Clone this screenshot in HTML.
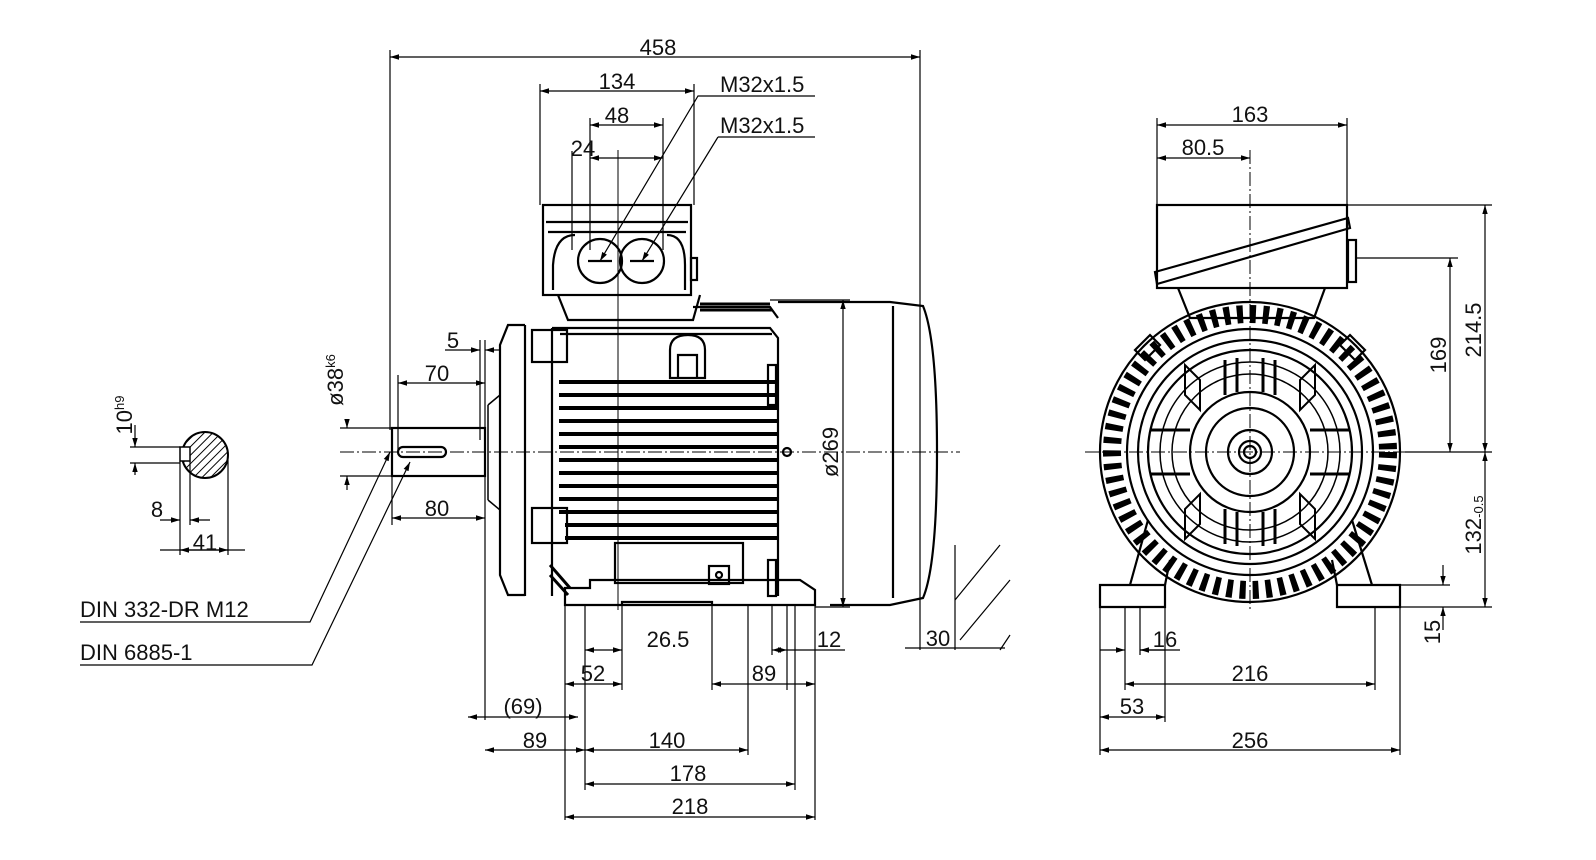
<!DOCTYPE html>
<html><head><meta charset="utf-8"><style>
html,body{margin:0;padding:0;background:#fff;}
svg{display:block}
text{font-family:"Liberation Sans",sans-serif;font-size:22px;fill:#111;}
</style></head><body>
<svg width="1596" height="860" viewBox="0 0 1596 860" xmlns="http://www.w3.org/2000/svg">
<defs>
<marker id="a" viewBox="0 0 10 10" refX="10" refY="5" markerWidth="9" markerHeight="9" orient="auto-start-reverse" markerUnits="userSpaceOnUse"><path d="M0,2 L10,5 L0,8z" fill="#000"/></marker>
<pattern id="h" width="6" height="6" patternUnits="userSpaceOnUse" patternTransform="rotate(45)"><line x1="0" y1="0" x2="0" y2="6" stroke="#000" stroke-width="2"/></pattern>
</defs>
<g stroke="#000" fill="none" stroke-width="1.3">
<line x1="340" y1="452" x2="960" y2="452" stroke-dasharray="14 3 2 3" stroke-width="1"/>
<line x1="1085" y1="452" x2="1420" y2="452" stroke-dasharray="14 3 2 3" stroke-width="1"/>
<line x1="618" y1="150" x2="618" y2="610" stroke-width="1"/>
<line x1="1250" y1="150" x2="1250" y2="610" stroke-dasharray="14 3 2 3" stroke-width="1"/>

<g stroke-width="2.2">
<rect x="543" y="205" width="148" height="90"/>
<line x1="546" y1="222" x2="688" y2="222"/>
<line x1="548" y1="232" x2="686" y2="232"/>
<path d="M553 290 V265 Q555 235 575 235 M667 235 Q685 235 685 265 V290"/>
<circle cx="600" cy="261" r="22"/><circle cx="642" cy="261" r="22"/>
<line x1="588" y1="261" x2="612" y2="261"/><line x1="630" y1="261" x2="654" y2="261"/>
<rect x="691" y="258" width="6" height="22"/>
<path d="M558 295 L568 320 H693 L700 295"/>
<path d="M693 307 H770 L778 318"/>
<path d="M552 328 H770 L778 338 V596"/>
<line x1="560" y1="334" x2="772" y2="334"/>
<line x1="552" y1="328" x2="552" y2="596"/>
<path d="M525 325 V596 M525 325 H508 L500 345 V575 L508 595 H525"/>
<rect x="532" y="330" width="35" height="32"/><rect x="532" y="508" width="35" height="35"/>
<path d="M488 405 V500 M488 405 L500 395 M488 500 L500 510" stroke-width="1.5"/>
<path d="M670 378 V350 Q670 335 688 335 Q705 335 705 350 V378 Z M678 378 V355 H697 V378"/>
<rect x="768" y="365" width="8" height="40"/><rect x="768" y="560" width="8" height="36"/>
<rect x="615" y="543" width="128" height="40"/>
<rect x="709" y="566" width="20" height="18"/><circle cx="719" cy="575" r="3"/>
<path d="M778 302 H890 L923 306 Q937 340 937 452 Q937 565 923 598 L890 605 H830"/>
<line x1="893" y1="306" x2="893" y2="598"/>
<circle cx="787" cy="452" r="4"/>
<path d="M565 605 V588 H590 V580 H800 L815 590 V605 Z"/>
<path d="M622 605 V602 H712 V605"/>
<rect x="392" y="428" width="93" height="48"/>
<rect x="398" y="447" width="48" height="10" rx="5"/>
</g>
<g stroke-width="4">
<line x1="559" y1="382" x2="778" y2="382"/><line x1="559" y1="395" x2="778" y2="395"/>
<line x1="559" y1="408" x2="778" y2="408"/><line x1="559" y1="421" x2="778" y2="421"/>
<line x1="559" y1="434" x2="778" y2="434"/><line x1="559" y1="447" x2="778" y2="447"/>
<line x1="559" y1="460" x2="778" y2="460"/><line x1="559" y1="473" x2="778" y2="473"/>
<line x1="559" y1="486" x2="778" y2="486"/><line x1="559" y1="499" x2="778" y2="499"/>
<line x1="559" y1="512" x2="778" y2="512"/><line x1="565" y1="525" x2="778" y2="525"/>
<line x1="565" y1="538" x2="778" y2="538"/>
<line x1="700" y1="304" x2="770" y2="304" stroke-width="3"/>
<line x1="700" y1="310" x2="772" y2="310" stroke-width="3"/>
<line x1="550" y1="575" x2="568" y2="595" stroke-width="3"/>
<line x1="550" y1="565" x2="570" y2="588" stroke-width="3"/>
</g>

<g stroke-width="2.2">
<rect x="1157" y="205" width="190" height="83"/>
<path d="M1155 272 L1348 218 L1350 228 L1157 284 Z"/>
<rect x="1348" y="240" width="8" height="42"/>
<path d="M1178 288 L1190 318 H1314 L1325 288"/>
<circle cx="1250" cy="452" r="150"/>
<circle cx="1250" cy="452" r="123"/>
<circle cx="1250" cy="452" r="112"/>
<circle cx="1250" cy="452" r="102"/>
<circle cx="1250" cy="452" r="60"/>
<circle cx="1250" cy="452" r="44"/>
<circle cx="1250" cy="452" r="22"/>
<circle cx="1250" cy="452" r="11"/>
<circle cx="1250" cy="452" r="6"/>
<path d="M1100 585 V607 H1165 V585 Z M1337 585 V607 H1400 V585 Z"/>
<path d="M1130 585 L1148 520 M1165 585 L1170 560 M1372 585 L1352 520 M1337 585 L1332 560"/>
<path d="M1135 350 L1150 335 L1160 345 L1145 360 Z M1365 350 L1350 335 L1340 345 L1355 360 Z"/>
</g>
<circle cx="1250" cy="452" r="138" stroke-width="18" stroke-dasharray="6 7"/>
<circle cx="1250" cy="452" r="90" stroke-width="1.5"/>
<circle cx="1250" cy="452" r="78" stroke-width="1.5"/>
<g stroke-width="2">
<path d="M1200 380 L1185 365 V395 L1200 410 Z" />
<path d="M1300 380 L1315 365 V395 L1300 410 Z"/>
<path d="M1200 524 L1185 539 V509 L1200 494 Z"/>
<path d="M1300 524 L1315 539 V509 L1300 494 Z"/>
</g>
<g stroke-width="3">
<line x1="1225" y1="360" x2="1225" y2="395"/><line x1="1237" y1="358" x2="1237" y2="392"/>
<line x1="1263" y1="358" x2="1263" y2="392"/><line x1="1275" y1="360" x2="1275" y2="395"/>
<line x1="1225" y1="509" x2="1225" y2="544"/><line x1="1237" y1="512" x2="1237" y2="546"/>
<line x1="1263" y1="512" x2="1263" y2="546"/><line x1="1275" y1="509" x2="1275" y2="544"/>
<line x1="1150" y1="430" x2="1190" y2="430"/><line x1="1150" y1="474" x2="1190" y2="474"/>
<line x1="1310" y1="430" x2="1350" y2="430"/><line x1="1310" y1="474" x2="1350" y2="474"/>
</g>

<circle cx="205" cy="455" r="23" fill="url(#h)" stroke-width="2"/>
<rect x="180" y="447" width="10" height="14" fill="#fff" stroke-width="1.5"/>

<g stroke-width="1.2">
<line x1="390" y1="50" x2="390" y2="430"/><line x1="920" y1="50" x2="920" y2="650"/>
<line x1="540" y1="84" x2="540" y2="205"/><line x1="694" y1="84" x2="694" y2="205"/>
<line x1="590" y1="118" x2="590" y2="250"/><line x1="663" y1="118" x2="663" y2="250"/>
<line x1="572" y1="151" x2="572" y2="250"/>
<line x1="390" y1="57" x2="920" y2="57" marker-start="url(#a)" marker-end="url(#a)"/>
<line x1="540" y1="91" x2="694" y2="91" marker-start="url(#a)" marker-end="url(#a)"/>
<line x1="590" y1="125" x2="663" y2="125" marker-start="url(#a)" marker-end="url(#a)"/>
<line x1="590" y1="158" x2="663" y2="158" marker-start="url(#a)" marker-end="url(#a)"/>
<polyline points="718,96 698,96 600,261" marker-end="url(#a)"/>
<polyline points="718,137 718,137 642,261" marker-end="url(#a)"/>
<line x1="718" y1="96" x2="815" y2="96"/><line x1="718" y1="137" x2="815" y2="137"/>
<line x1="480" y1="340" x2="480" y2="440"/><line x1="485" y1="340" x2="485" y2="430"/>
<line x1="445" y1="350" x2="480" y2="350" marker-end="url(#a)"/>
<line x1="485" y1="350" x2="500" y2="350" marker-start="url(#a)"/>
<line x1="398" y1="375" x2="398" y2="450"/>
<line x1="398" y1="383" x2="485" y2="383" marker-start="url(#a)" marker-end="url(#a)"/>
<line x1="392" y1="476" x2="392" y2="525"/><line x1="485" y1="476" x2="485" y2="720"/>
<line x1="392" y1="518" x2="485" y2="518" marker-start="url(#a)" marker-end="url(#a)"/>
<line x1="340" y1="428" x2="392" y2="428"/><line x1="340" y1="476" x2="392" y2="476"/>
<line x1="347" y1="420" x2="347" y2="428" marker-end="url(#a)"/>
<line x1="347" y1="490" x2="347" y2="476" marker-end="url(#a)"/>
<line x1="770" y1="300" x2="850" y2="300"/><line x1="815" y1="607" x2="850" y2="607"/>
<line x1="843" y1="300" x2="843" y2="607" marker-start="url(#a)" marker-end="url(#a)"/>
<line x1="905" y1="648" x2="1005" y2="648"/>
<line x1="955" y1="545" x2="955" y2="650"/>
<line x1="955" y1="600" x2="1000" y2="545"/><line x1="960" y1="640" x2="1010" y2="580"/><line x1="1000" y1="650" x2="1010" y2="635"/>
<polyline points="80,622 310,622 390,452" marker-end="url(#a)"/>
<polyline points="80,665 312,665 410,462" marker-end="url(#a)"/>
<line x1="565" y1="605" x2="565" y2="820"/><line x1="585" y1="605" x2="585" y2="790"/>
<line x1="622" y1="605" x2="622" y2="690"/><line x1="712" y1="605" x2="712" y2="690"/>
<line x1="748" y1="605" x2="748" y2="755"/><line x1="772" y1="605" x2="772" y2="655"/>
<line x1="787" y1="605" x2="787" y2="690"/><line x1="795" y1="605" x2="795" y2="790"/>
<line x1="815" y1="605" x2="815" y2="820"/>
<line x1="585" y1="650" x2="622" y2="650" marker-start="url(#a)" marker-end="url(#a)"/>
<line x1="772" y1="650" x2="787" y2="650" marker-start="url(#a)" marker-end="url(#a)"/>
<line x1="787" y1="650" x2="845" y2="650"/>
<line x1="565" y1="684" x2="622" y2="684" marker-start="url(#a)" marker-end="url(#a)"/>
<line x1="712" y1="684" x2="815" y2="684" marker-start="url(#a)" marker-end="url(#a)"/>
<line x1="468" y1="717" x2="578" y2="717" marker-start="url(#a)" marker-end="url(#a)"/>
<line x1="485" y1="750" x2="585" y2="750" marker-start="url(#a)" marker-end="url(#a)"/>
<line x1="585" y1="750" x2="748" y2="750" marker-start="url(#a)" marker-end="url(#a)"/>
<line x1="585" y1="784" x2="795" y2="784" marker-start="url(#a)" marker-end="url(#a)"/>
<line x1="565" y1="817" x2="815" y2="817" marker-start="url(#a)" marker-end="url(#a)"/>
<line x1="130" y1="447" x2="180" y2="447"/><line x1="130" y1="463" x2="180" y2="463"/>
<line x1="135" y1="425" x2="135" y2="447" marker-end="url(#a)"/>
<line x1="135" y1="475" x2="135" y2="463" marker-end="url(#a)"/>
<line x1="180" y1="461" x2="180" y2="555"/><line x1="190" y1="461" x2="190" y2="525"/><line x1="228" y1="460" x2="228" y2="555"/>
<line x1="160" y1="520" x2="180" y2="520" marker-end="url(#a)"/><line x1="210" y1="520" x2="190" y2="520" marker-end="url(#a)"/>
<line x1="160" y1="550" x2="245" y2="550"/><line x1="180" y1="550" x2="228" y2="550" marker-start="url(#a)" marker-end="url(#a)"/>
<line x1="1157" y1="118" x2="1157" y2="205"/><line x1="1347" y1="118" x2="1347" y2="205"/>
<line x1="1157" y1="125" x2="1347" y2="125" marker-start="url(#a)" marker-end="url(#a)"/>
<line x1="1157" y1="158" x2="1250" y2="158" marker-start="url(#a)" marker-end="url(#a)"/>
<line x1="1348" y1="205" x2="1492" y2="205"/><line x1="1356" y1="258" x2="1458" y2="258"/>
<line x1="1405" y1="452" x2="1492" y2="452"/><line x1="1400" y1="607" x2="1492" y2="607"/>
<line x1="1400" y1="585" x2="1450" y2="585"/>
<line x1="1485" y1="205" x2="1485" y2="452" marker-start="url(#a)" marker-end="url(#a)"/>
<line x1="1450" y1="258" x2="1450" y2="452" marker-start="url(#a)" marker-end="url(#a)"/>
<line x1="1485" y1="452" x2="1485" y2="607" marker-start="url(#a)" marker-end="url(#a)"/>
<line x1="1443" y1="565" x2="1443" y2="585" marker-end="url(#a)"/>
<line x1="1443" y1="630" x2="1443" y2="607" marker-end="url(#a)"/>
<line x1="1100" y1="607" x2="1100" y2="755"/><line x1="1400" y1="607" x2="1400" y2="755"/>
<line x1="1125" y1="607" x2="1125" y2="690"/><line x1="1140" y1="607" x2="1140" y2="655"/>
<line x1="1165" y1="607" x2="1165" y2="722"/><line x1="1375" y1="607" x2="1375" y2="690"/>
<line x1="1100" y1="650" x2="1125" y2="650" marker-end="url(#a)"/>
<line x1="1165" y1="650" x2="1140" y2="650" marker-end="url(#a)"/><line x1="1140" y1="650" x2="1180" y2="650"/>
<line x1="1125" y1="684" x2="1375" y2="684" marker-start="url(#a)" marker-end="url(#a)"/>
<line x1="1100" y1="717" x2="1165" y2="717" marker-start="url(#a)" marker-end="url(#a)"/>
<line x1="1100" y1="750" x2="1400" y2="750" marker-start="url(#a)" marker-end="url(#a)"/>
</g>
</g>
<text x="658" y="55" text-anchor="middle">458</text>
<text x="617" y="89" text-anchor="middle">134</text>
<text x="617" y="123" text-anchor="middle">48</text>
<text x="583" y="156" text-anchor="middle">24</text>
<text x="720" y="92">M32x1.5</text>
<text x="720" y="133">M32x1.5</text>
<text x="453" y="348" text-anchor="middle">5</text>
<text x="437" y="381" text-anchor="middle">70</text>
<text x="437" y="516" text-anchor="middle">80</text>
<text transform="translate(343,380) rotate(-90)" text-anchor="middle">ø38<tspan font-size="13" dy="-8">k6</tspan></text>
<text transform="translate(838,452) rotate(-90)" text-anchor="middle">ø269</text>
<text x="938" y="646" text-anchor="middle">30</text>
<text x="80" y="617">DIN 332-DR M12</text>
<text x="80" y="660">DIN 6885-1</text>
<text x="668" y="647" text-anchor="middle">26.5</text>
<text x="829" y="647" text-anchor="middle">12</text>
<text x="593" y="681" text-anchor="middle">52</text>
<text x="764" y="681" text-anchor="middle">89</text>
<text x="523" y="714" text-anchor="middle">(69)</text>
<text x="535" y="748" text-anchor="middle">89</text>
<text x="667" y="748" text-anchor="middle">140</text>
<text x="688" y="781" text-anchor="middle">178</text>
<text x="690" y="814" text-anchor="middle">218</text>
<text transform="translate(132,415) rotate(-90)" text-anchor="middle">10<tspan font-size="13" dy="-8">h9</tspan></text>
<text x="157" y="517" text-anchor="middle">8</text>
<text x="205" y="550" text-anchor="middle">41</text>
<text x="1250" y="122" text-anchor="middle">163</text>
<text x="1203" y="155" text-anchor="middle">80.5</text>
<text transform="translate(1481,330) rotate(-90)" text-anchor="middle">214.5</text>
<text transform="translate(1446,355) rotate(-90)" text-anchor="middle">169</text>
<text transform="translate(1481,525) rotate(-90)" text-anchor="middle">132<tspan font-size="13" dy="2">-0.5</tspan></text>
<text transform="translate(1440,632) rotate(-90)" text-anchor="middle">15</text>
<text x="1165" y="647" text-anchor="middle">16</text>
<text x="1250" y="681" text-anchor="middle">216</text>
<text x="1132" y="714" text-anchor="middle">53</text>
<text x="1250" y="748" text-anchor="middle">256</text>
</svg>
</body></html>
